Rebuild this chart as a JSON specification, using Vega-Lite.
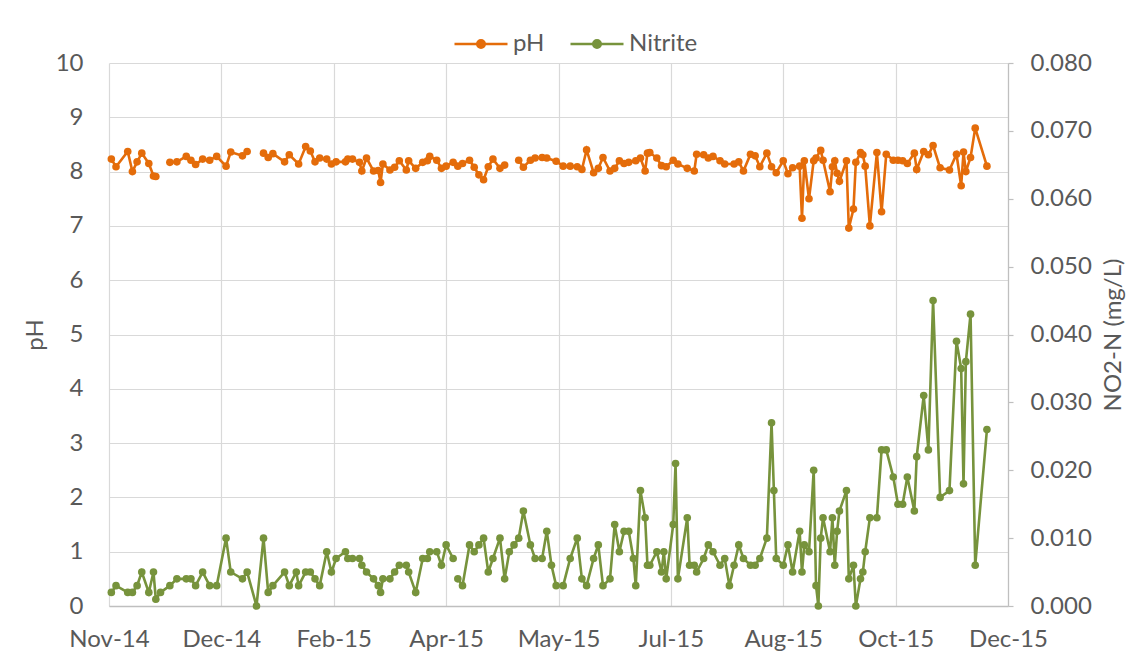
{
  "$schema": "https://vega.github.io/schema/vega-lite/v6.json",
  "width": 899,
  "height": 543,
  "autosize": {"type": "none"},
  "padding": {"left": 109, "top": 63, "right": 119, "bottom": 56},
  "background": "white",
  "config": {
    "font": "Lato",
    "view": {"stroke": null},
    "axis": {"labelFont": "Lato", "titleFont": "Lato", "labelColor": "#595959", "titleColor": "#595959", "labelFontSize": 24, "titleFontSize": 24, "titleFontWeight": "normal"},
    "legend": {"labelFont": "Lato"}
  },
  "data": {"values": [
    {"date":"2014-11-13","pH":8.23,"nitrite":0.002,"ps":1,"ns":1},
    {"date":"2014-11-15","pH":8.09,"nitrite":0.003,"ps":1,"ns":1},
    {"date":"2014-11-20","pH":8.37,"nitrite":0.002,"ps":1,"ns":1},
    {"date":"2014-11-22","pH":8.00,"nitrite":0.002,"ps":1,"ns":1},
    {"date":"2014-11-24","pH":8.18,"nitrite":0.003,"ps":1,"ns":1},
    {"date":"2014-11-26","pH":8.34,"nitrite":0.005,"ps":1,"ns":1},
    {"date":"2014-11-29","pH":8.15,"nitrite":0.002,"ps":1,"ns":1},
    {"date":"2014-12-01","pH":7.92,"nitrite":0.005,"ps":1,"ns":1},
    {"date":"2014-12-02","pH":7.91,"nitrite":0.001,"ps":1,"ns":1},
    {"date":"2014-12-04","pH":null,"nitrite":0.002,"ps":1,"ns":1},
    {"date":"2014-12-08","pH":8.17,"nitrite":0.003,"ps":2,"ns":1},
    {"date":"2014-12-11","pH":8.18,"nitrite":0.004,"ps":2,"ns":1},
    {"date":"2014-12-15","pH":8.28,"nitrite":0.004,"ps":2,"ns":1},
    {"date":"2014-12-17","pH":8.21,"nitrite":0.004,"ps":2,"ns":1},
    {"date":"2014-12-19","pH":8.13,"nitrite":0.003,"ps":2,"ns":1},
    {"date":"2014-12-22","pH":8.23,"nitrite":0.005,"ps":2,"ns":1},
    {"date":"2014-12-25","pH":8.21,"nitrite":0.003,"ps":2,"ns":1},
    {"date":"2014-12-28","pH":8.28,"nitrite":0.003,"ps":2,"ns":1},
    {"date":"2015-01-01","pH":8.10,"nitrite":0.010,"ps":2,"ns":1},
    {"date":"2015-01-03","pH":8.36,"nitrite":0.005,"ps":2,"ns":1},
    {"date":"2015-01-08","pH":8.29,"nitrite":0.004,"ps":2,"ns":1},
    {"date":"2015-01-10","pH":8.37,"nitrite":0.005,"ps":2,"ns":1},
    {"date":"2015-01-14","pH":null,"nitrite":0.000,"ps":2,"ns":1},
    {"date":"2015-01-17","pH":8.34,"nitrite":0.010,"ps":3,"ns":1},
    {"date":"2015-01-19","pH":8.26,"nitrite":0.002,"ps":3,"ns":1},
    {"date":"2015-01-21","pH":8.33,"nitrite":0.003,"ps":3,"ns":1},
    {"date":"2015-01-26","pH":8.18,"nitrite":0.005,"ps":3,"ns":1},
    {"date":"2015-01-28","pH":8.31,"nitrite":0.003,"ps":3,"ns":1},
    {"date":"2015-01-31","pH":null,"nitrite":0.005,"ps":3,"ns":1},
    {"date":"2015-02-01","pH":8.14,"nitrite":0.003,"ps":3,"ns":1},
    {"date":"2015-02-04","pH":8.46,"nitrite":0.005,"ps":3,"ns":1},
    {"date":"2015-02-06","pH":8.38,"nitrite":0.005,"ps":3,"ns":1},
    {"date":"2015-02-08","pH":8.18,"nitrite":0.004,"ps":3,"ns":1},
    {"date":"2015-02-10","pH":8.25,"nitrite":0.003,"ps":3,"ns":1},
    {"date":"2015-02-13","pH":8.23,"nitrite":0.008,"ps":3,"ns":1},
    {"date":"2015-02-15","pH":8.14,"nitrite":0.005,"ps":3,"ns":1},
    {"date":"2015-02-17","pH":8.18,"nitrite":0.007,"ps":3,"ns":1},
    {"date":"2015-02-21","pH":8.18,"nitrite":0.008,"ps":3,"ns":1},
    {"date":"2015-02-22","pH":8.23,"nitrite":0.007,"ps":3,"ns":1},
    {"date":"2015-02-24","pH":8.23,"nitrite":0.007,"ps":3,"ns":1},
    {"date":"2015-02-27","pH":8.17,"nitrite":0.007,"ps":3,"ns":1},
    {"date":"2015-02-28","pH":8.01,"nitrite":0.006,"ps":3,"ns":1},
    {"date":"2015-03-02","pH":8.25,"nitrite":0.005,"ps":3,"ns":1},
    {"date":"2015-03-05","pH":8.01,"nitrite":0.004,"ps":3,"ns":1},
    {"date":"2015-03-07","pH":8.02,"nitrite":0.003,"ps":3,"ns":1},
    {"date":"2015-03-08","pH":7.80,"nitrite":0.002,"ps":3,"ns":1},
    {"date":"2015-03-09","pH":8.14,"nitrite":0.004,"ps":3,"ns":1},
    {"date":"2015-03-12","pH":8.03,"nitrite":0.004,"ps":3,"ns":1},
    {"date":"2015-03-14","pH":8.08,"nitrite":0.005,"ps":3,"ns":1},
    {"date":"2015-03-16","pH":8.20,"nitrite":0.006,"ps":3,"ns":1},
    {"date":"2015-03-19","pH":8.03,"nitrite":0.006,"ps":3,"ns":1},
    {"date":"2015-03-20","pH":8.20,"nitrite":0.005,"ps":3,"ns":1},
    {"date":"2015-03-23","pH":8.06,"nitrite":0.002,"ps":3,"ns":1},
    {"date":"2015-03-26","pH":8.17,"nitrite":0.007,"ps":3,"ns":1},
    {"date":"2015-03-28","pH":8.20,"nitrite":0.007,"ps":3,"ns":1},
    {"date":"2015-03-29","pH":8.28,"nitrite":0.008,"ps":3,"ns":1},
    {"date":"2015-04-01","pH":8.21,"nitrite":0.008,"ps":3,"ns":1},
    {"date":"2015-04-03","pH":8.06,"nitrite":0.006,"ps":3,"ns":1},
    {"date":"2015-04-05","pH":8.10,"nitrite":0.009,"ps":3,"ns":1},
    {"date":"2015-04-08","pH":8.17,"nitrite":0.007,"ps":3,"ns":1},
    {"date":"2015-04-10","pH":8.10,"nitrite":0.004,"ps":3,"ns":2},
    {"date":"2015-04-12","pH":8.15,"nitrite":0.003,"ps":3,"ns":2},
    {"date":"2015-04-15","pH":8.21,"nitrite":0.009,"ps":3,"ns":2},
    {"date":"2015-04-17","pH":8.08,"nitrite":0.008,"ps":3,"ns":2},
    {"date":"2015-04-19","pH":7.94,"nitrite":0.009,"ps":3,"ns":2},
    {"date":"2015-04-21","pH":7.85,"nitrite":0.010,"ps":3,"ns":2},
    {"date":"2015-04-23","pH":8.09,"nitrite":0.005,"ps":3,"ns":2},
    {"date":"2015-04-25","pH":8.23,"nitrite":0.007,"ps":3,"ns":2},
    {"date":"2015-04-28","pH":8.06,"nitrite":0.010,"ps":3,"ns":2},
    {"date":"2015-04-30","pH":8.12,"nitrite":0.004,"ps":3,"ns":2},
    {"date":"2015-05-02","pH":null,"nitrite":0.008,"ps":3,"ns":2},
    {"date":"2015-05-04","pH":null,"nitrite":0.009,"ps":3,"ns":2},
    {"date":"2015-05-06","pH":8.21,"nitrite":0.010,"ps":4,"ns":2},
    {"date":"2015-05-08","pH":8.08,"nitrite":0.014,"ps":4,"ns":2},
    {"date":"2015-05-11","pH":8.21,"nitrite":0.009,"ps":4,"ns":2},
    {"date":"2015-05-13","pH":8.25,"nitrite":0.007,"ps":4,"ns":2},
    {"date":"2015-05-16","pH":8.26,"nitrite":0.007,"ps":4,"ns":2},
    {"date":"2015-05-18","pH":8.25,"nitrite":0.011,"ps":4,"ns":2},
    {"date":"2015-05-20","pH":null,"nitrite":0.006,"ps":4,"ns":2},
    {"date":"2015-05-22","pH":8.19,"nitrite":0.003,"ps":4,"ns":2},
    {"date":"2015-05-25","pH":8.10,"nitrite":0.003,"ps":4,"ns":2},
    {"date":"2015-05-28","pH":8.10,"nitrite":0.007,"ps":4,"ns":2},
    {"date":"2015-05-31","pH":8.09,"nitrite":0.010,"ps":4,"ns":2},
    {"date":"2015-06-02","pH":8.04,"nitrite":0.004,"ps":4,"ns":2},
    {"date":"2015-06-04","pH":8.40,"nitrite":0.003,"ps":4,"ns":2},
    {"date":"2015-06-07","pH":7.98,"nitrite":0.007,"ps":4,"ns":2},
    {"date":"2015-06-09","pH":8.06,"nitrite":0.009,"ps":4,"ns":2},
    {"date":"2015-06-11","pH":8.26,"nitrite":0.003,"ps":4,"ns":2},
    {"date":"2015-06-14","pH":8.01,"nitrite":0.004,"ps":4,"ns":2},
    {"date":"2015-06-16","pH":8.06,"nitrite":0.012,"ps":4,"ns":2},
    {"date":"2015-06-18","pH":8.20,"nitrite":0.008,"ps":4,"ns":2},
    {"date":"2015-06-20","pH":8.15,"nitrite":0.011,"ps":4,"ns":2},
    {"date":"2015-06-22","pH":8.17,"nitrite":0.011,"ps":4,"ns":2},
    {"date":"2015-06-24","pH":null,"nitrite":0.007,"ps":4,"ns":2},
    {"date":"2015-06-25","pH":8.20,"nitrite":0.003,"ps":4,"ns":2},
    {"date":"2015-06-27","pH":8.25,"nitrite":0.017,"ps":4,"ns":2},
    {"date":"2015-06-29","pH":8.01,"nitrite":0.013,"ps":4,"ns":2},
    {"date":"2015-06-30","pH":8.34,"nitrite":0.006,"ps":4,"ns":2},
    {"date":"2015-07-01","pH":8.35,"nitrite":0.006,"ps":4,"ns":2},
    {"date":"2015-07-04","pH":8.25,"nitrite":0.008,"ps":4,"ns":2},
    {"date":"2015-07-06","pH":8.11,"nitrite":0.005,"ps":4,"ns":2},
    {"date":"2015-07-07","pH":null,"nitrite":0.008,"ps":4,"ns":2},
    {"date":"2015-07-08","pH":8.09,"nitrite":0.004,"ps":4,"ns":2},
    {"date":"2015-07-11","pH":8.21,"nitrite":0.012,"ps":4,"ns":2},
    {"date":"2015-07-12","pH":null,"nitrite":0.021,"ps":4,"ns":2},
    {"date":"2015-07-13","pH":8.14,"nitrite":0.004,"ps":4,"ns":2},
    {"date":"2015-07-17","pH":8.06,"nitrite":0.013,"ps":4,"ns":2},
    {"date":"2015-07-18","pH":null,"nitrite":0.006,"ps":4,"ns":2},
    {"date":"2015-07-20","pH":8.01,"nitrite":0.006,"ps":4,"ns":2},
    {"date":"2015-07-21","pH":8.32,"nitrite":0.005,"ps":4,"ns":2},
    {"date":"2015-07-24","pH":8.31,"nitrite":0.007,"ps":4,"ns":2},
    {"date":"2015-07-26","pH":8.25,"nitrite":0.009,"ps":4,"ns":2},
    {"date":"2015-07-28","pH":8.28,"nitrite":0.008,"ps":4,"ns":2},
    {"date":"2015-07-31","pH":8.20,"nitrite":0.006,"ps":4,"ns":2},
    {"date":"2015-08-02","pH":8.14,"nitrite":0.007,"ps":4,"ns":2},
    {"date":"2015-08-04","pH":null,"nitrite":0.003,"ps":4,"ns":2},
    {"date":"2015-08-06","pH":8.14,"nitrite":0.006,"ps":4,"ns":2},
    {"date":"2015-08-08","pH":8.18,"nitrite":0.009,"ps":4,"ns":2},
    {"date":"2015-08-10","pH":8.01,"nitrite":0.007,"ps":4,"ns":2},
    {"date":"2015-08-13","pH":8.32,"nitrite":0.006,"ps":4,"ns":2},
    {"date":"2015-08-15","pH":8.29,"nitrite":0.006,"ps":4,"ns":2},
    {"date":"2015-08-17","pH":8.09,"nitrite":0.007,"ps":4,"ns":2},
    {"date":"2015-08-20","pH":8.34,"nitrite":0.010,"ps":4,"ns":2},
    {"date":"2015-08-22","pH":8.09,"nitrite":0.027,"ps":4,"ns":2},
    {"date":"2015-08-23","pH":null,"nitrite":0.017,"ps":4,"ns":2},
    {"date":"2015-08-24","pH":7.98,"nitrite":0.007,"ps":4,"ns":2},
    {"date":"2015-08-27","pH":8.20,"nitrite":0.006,"ps":4,"ns":2},
    {"date":"2015-08-29","pH":7.96,"nitrite":0.009,"ps":4,"ns":2},
    {"date":"2015-08-31","pH":8.07,"nitrite":0.005,"ps":4,"ns":2},
    {"date":"2015-09-03","pH":8.10,"nitrite":0.011,"ps":4,"ns":2},
    {"date":"2015-09-04","pH":7.14,"nitrite":0.005,"ps":4,"ns":2},
    {"date":"2015-09-05","pH":8.20,"nitrite":0.009,"ps":4,"ns":2},
    {"date":"2015-09-07","pH":7.50,"nitrite":0.008,"ps":4,"ns":2},
    {"date":"2015-09-09","pH":8.20,"nitrite":0.020,"ps":4,"ns":2},
    {"date":"2015-09-10","pH":8.25,"nitrite":0.003,"ps":4,"ns":2},
    {"date":"2015-09-11","pH":null,"nitrite":0.000,"ps":4,"ns":2},
    {"date":"2015-09-12","pH":8.39,"nitrite":0.010,"ps":4,"ns":2},
    {"date":"2015-09-13","pH":8.21,"nitrite":0.013,"ps":4,"ns":2},
    {"date":"2015-09-16","pH":7.63,"nitrite":0.008,"ps":4,"ns":2},
    {"date":"2015-09-17","pH":8.09,"nitrite":0.013,"ps":4,"ns":2},
    {"date":"2015-09-18","pH":8.20,"nitrite":0.006,"ps":4,"ns":2},
    {"date":"2015-09-19","pH":7.97,"nitrite":0.011,"ps":4,"ns":2},
    {"date":"2015-09-20","pH":7.82,"nitrite":0.014,"ps":4,"ns":2},
    {"date":"2015-09-23","pH":8.20,"nitrite":0.017,"ps":4,"ns":2},
    {"date":"2015-09-24","pH":6.96,"nitrite":0.004,"ps":4,"ns":2},
    {"date":"2015-09-26","pH":7.31,"nitrite":0.006,"ps":4,"ns":2},
    {"date":"2015-09-27","pH":8.17,"nitrite":0.000,"ps":4,"ns":2},
    {"date":"2015-09-29","pH":8.35,"nitrite":0.004,"ps":4,"ns":2},
    {"date":"2015-09-30","pH":8.31,"nitrite":0.005,"ps":4,"ns":2},
    {"date":"2015-10-01","pH":8.10,"nitrite":0.008,"ps":4,"ns":2},
    {"date":"2015-10-03","pH":7.00,"nitrite":0.013,"ps":4,"ns":2},
    {"date":"2015-10-06","pH":8.35,"nitrite":0.013,"ps":4,"ns":2},
    {"date":"2015-10-08","pH":7.26,"nitrite":0.023,"ps":4,"ns":2},
    {"date":"2015-10-10","pH":8.32,"nitrite":0.023,"ps":4,"ns":2},
    {"date":"2015-10-13","pH":8.21,"nitrite":0.019,"ps":4,"ns":2},
    {"date":"2015-10-15","pH":8.21,"nitrite":0.015,"ps":4,"ns":2},
    {"date":"2015-10-17","pH":8.20,"nitrite":0.015,"ps":4,"ns":2},
    {"date":"2015-10-19","pH":8.15,"nitrite":0.019,"ps":4,"ns":2},
    {"date":"2015-10-22","pH":8.34,"nitrite":0.014,"ps":4,"ns":2},
    {"date":"2015-10-23","pH":8.04,"nitrite":0.022,"ps":4,"ns":2},
    {"date":"2015-10-26","pH":8.37,"nitrite":0.031,"ps":4,"ns":2},
    {"date":"2015-10-28","pH":8.31,"nitrite":0.023,"ps":4,"ns":2},
    {"date":"2015-10-30","pH":8.48,"nitrite":0.045,"ps":4,"ns":2},
    {"date":"2015-11-02","pH":8.07,"nitrite":0.016,"ps":4,"ns":2},
    {"date":"2015-11-06","pH":8.03,"nitrite":0.017,"ps":4,"ns":2},
    {"date":"2015-11-09","pH":8.32,"nitrite":0.039,"ps":4,"ns":2},
    {"date":"2015-11-11","pH":7.74,"nitrite":0.035,"ps":4,"ns":2},
    {"date":"2015-11-12","pH":8.36,"nitrite":0.018,"ps":4,"ns":2},
    {"date":"2015-11-13","pH":8.00,"nitrite":0.036,"ps":4,"ns":2},
    {"date":"2015-11-15","pH":8.26,"nitrite":0.043,"ps":4,"ns":2},
    {"date":"2015-11-17","pH":8.80,"nitrite":0.006,"ps":4,"ns":2},
    {"date":"2015-11-22","pH":8.10,"nitrite":0.026,"ps":4,"ns":2}
  ]},
  "layer": [
    {
      "transform": [{"filter": "datum.pH != null"}],
      "mark": {"type": "line", "strokeWidth": 2.6, "point": {"filled": true, "size": 58}},
      "encoding": {
        "x": {
          "field": "date", "type": "temporal",
          "scale": {"type": "utc", "domain": [{"year": 2014, "month": 11, "date": 12, "utc": true}, {"year": 2015, "month": 12, "date": 1, "utc": true}]},
          "axis": {
            "title": null, "format": "%b-%y",
            "values": [
              {"year": 2014, "month": 11, "date": 12, "utc": true},
              {"year": 2014, "month": 12, "date": 30, "utc": true},
              {"year": 2015, "month": 2, "date": 16, "utc": true},
              {"year": 2015, "month": 4, "date": 5, "utc": true},
              {"year": 2015, "month": 5, "date": 23, "utc": true},
              {"year": 2015, "month": 7, "date": 10, "utc": true},
              {"year": 2015, "month": 8, "date": 27, "utc": true},
              {"year": 2015, "month": 10, "date": 14, "utc": true},
              {"year": 2015, "month": 12, "date": 1, "utc": true}
            ],
            "ticks": false, "grid": true, "gridColor": "#D9D9D9", "gridWidth": 1.2,
            "domainColor": "#BFBFBF", "domainWidth": 1.6,
            "labelPadding": 21, "labelFlush": false, "labelOverlap": false
          }
        },
        "y": {
          "field": "pH", "type": "quantitative",
          "scale": {"domain": [0, 10], "nice": false},
          "axis": {
            "title": "pH", "values": [0, 1, 2, 3, 4, 5, 6, 7, 8, 9, 10],
            "ticks": false, "domain": false, "grid": true, "gridColor": "#D9D9D9", "gridWidth": 1.2,
            "labelPadding": 26, "titlePadding": 8
          }
        },
        "color": {
          "datum": "pH", "type": "nominal",
          "scale": {"domain": ["pH", "Nitrite"], "range": ["#E46C0A", "#77933C"]},
          "legend": {
            "title": null, "orient": "none", "direction": "horizontal",
            "legendX": 344, "legendY": -47, "padding": 0,
            "symbolType": "M-1,0H1M-0.14,0A0.14,0.14,0,1,1,0.14,0A0.14,0.14,0,1,1,-0.14,0Z",
            "symbolSize": 2809, "symbolStrokeWidth": 2.6,
            "labelFontSize": 24, "labelColor": "#595959", "labelOffset": 4, "columnPadding": 20,
            "encode": {"symbols": {"update": {"fill": {"scale": "color", "field": "value"}}}}
          }
        },
        "detail": {"field": "ps", "type": "nominal"}
      }
    },
    {
      "transform": [{"filter": "datum.nitrite != null"}],
      "mark": {"type": "line", "strokeWidth": 2.6, "point": {"filled": true, "size": 58}},
      "encoding": {
        "x": {"field": "date", "type": "temporal"},
        "y": {
          "field": "nitrite", "type": "quantitative",
          "scale": {"domain": [0, 0.08], "nice": false},
          "axis": {
            "orient": "right", "title": "NO2-N (mg/L)", "format": ".3f",
            "values": [0, 0.01, 0.02, 0.03, 0.04, 0.05, 0.06, 0.07, 0.08],
            "grid": false, "ticks": true, "tickSize": 5, "tickColor": "#BFBFBF", "tickWidth": 1.2,
            "domainColor": "#BFBFBF", "domainWidth": 1.2,
            "labelPadding": 17, "titleAngle": 270, "titleBaseline": "top", "titlePadding": 10
          }
        },
        "color": {"datum": "Nitrite", "type": "nominal"},
        "detail": {"field": "ns", "type": "nominal"}
      }
    }
  ],
  "resolve": {"scale": {"y": "independent"}}
}
